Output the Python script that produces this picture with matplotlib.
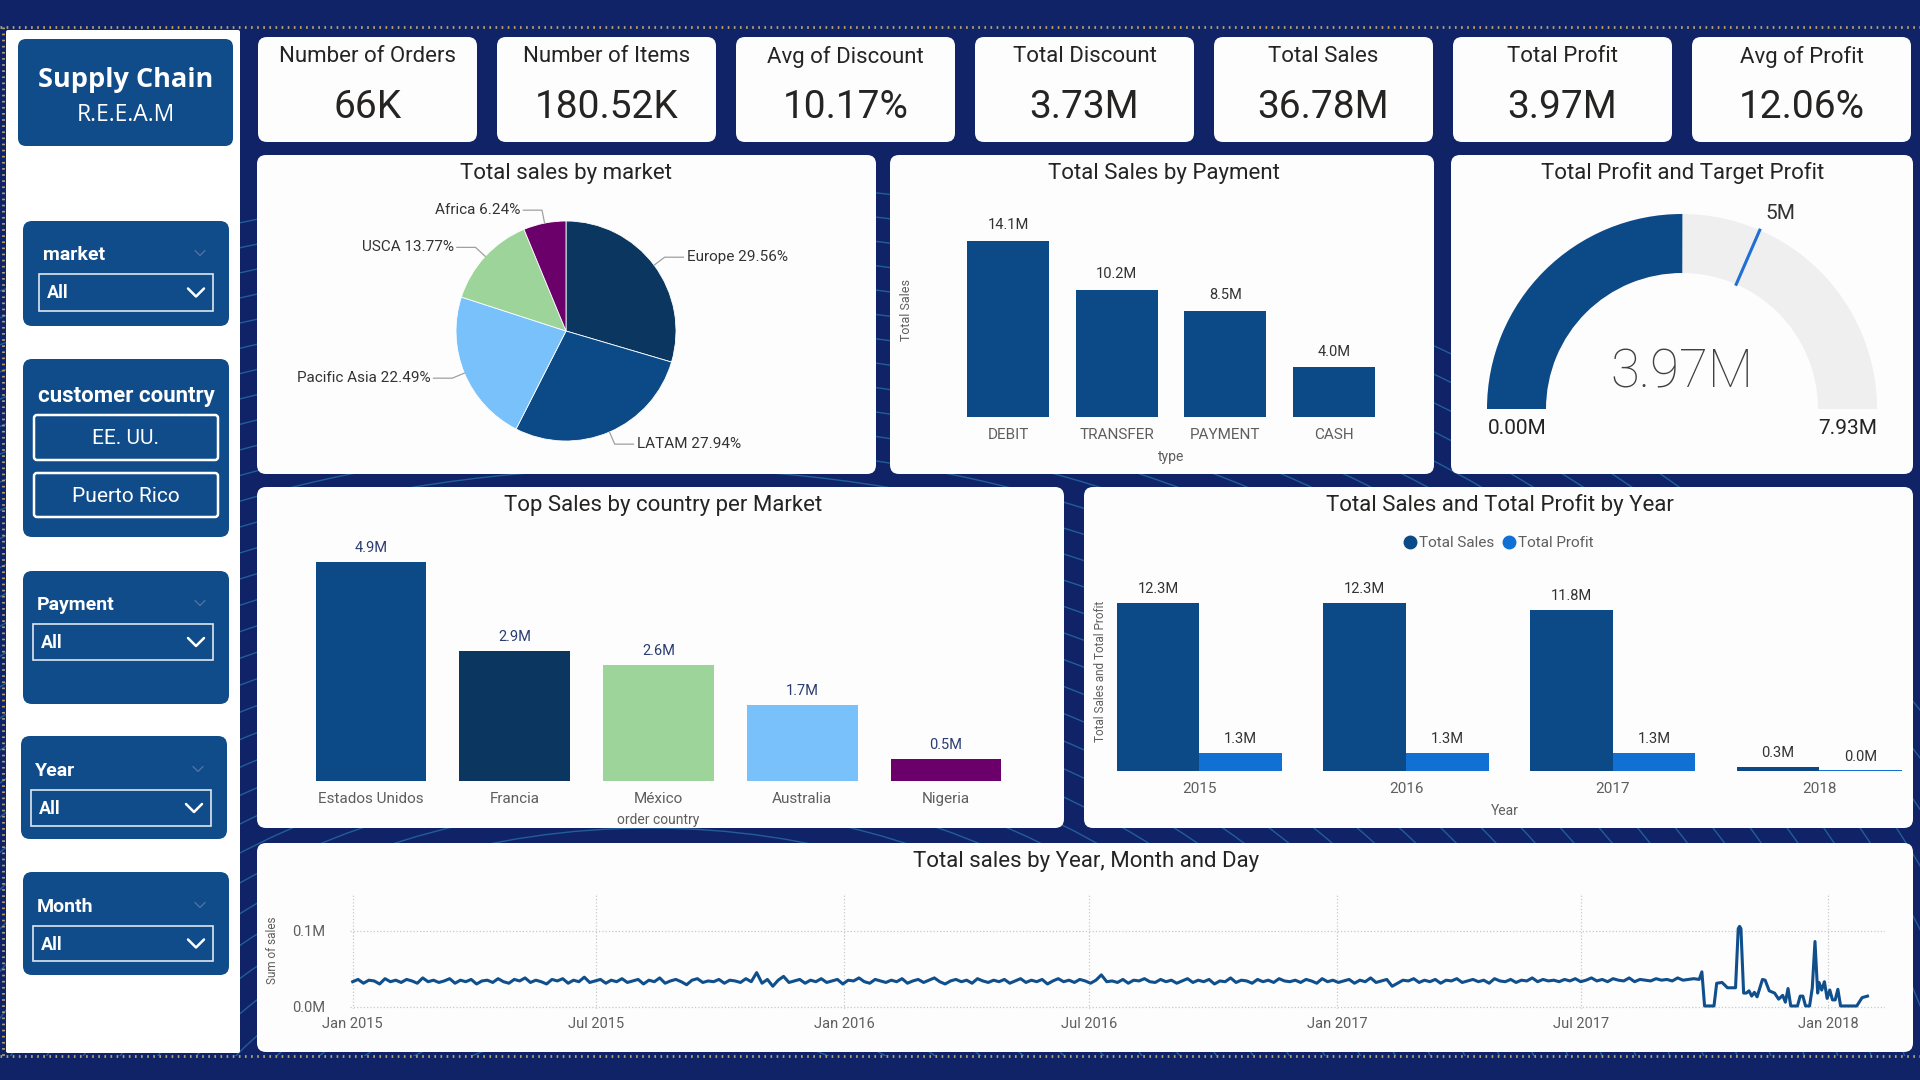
import matplotlib
matplotlib.use('Agg')
import matplotlib.pyplot as plt
import matplotlib.dates as mdates
from matplotlib.patches import FancyBboxPatch, Wedge, Arc, Rectangle
from matplotlib.lines import Line2D
from matplotlib.ticker import FuncFormatter
import numpy as np
import pandas as pd

plt.rcParams['font.family'] = ['Roboto', 'DejaVu Sans']

# ---- data ----
kpi_titles = ['Number of Orders', 'Number of Items', 'Avg of Discount', 'Total Discount',
              'Total Sales', 'Total Profit', 'Avg of Profit']
kpi_values = ['66K', '180.52K', '10.17%', '3.73M', '36.78M', '3.97M', '12.06%']

markets = ['Europe', 'LATAM', 'Pacific Asia', 'USCA', 'Africa']
market_share = [29.56, 27.94, 22.49, 13.77, 6.24]

pay_types = ['DEBIT', 'TRANSFER', 'PAYMENT', 'CASH']
pay_sales = [14.1, 10.2, 8.5, 4.0]

countries = ['Estados Unidos', 'Francia', 'México', 'Australia', 'Nigeria']
country_sales = [4.9, 2.9, 2.6, 1.7, 0.5]

years = ['2015', '2016', '2017', '2018']
year_sales = [12.3, 12.3, 11.8, 0.3]
year_profit = [1.3, 1.3, 1.3, 0.04]

profit_total = 3.97
profit_target = 5.0
profit_max = 7.93

# sales (thousands) sampled every 4 days from 2015-01-01
daily_start = '2015-01-01'
daily_sales_k = [
    33, 36, 31, 35, 34, 30, 37, 33, 35, 32, 36, 34, 31, 38, 33, 35, 32, 34, 37, 31, 35, 33, 36, 30, 34,
    35, 32, 37, 33, 31, 36, 34, 38, 32, 35, 33, 30, 36, 34, 37, 31, 35, 33, 39, 32, 34, 36, 31, 35, 33,
    37, 32, 34, 36, 30, 35, 33, 38, 31, 34, 36, 33, 29, 35, 37, 32, 34, 33, 36, 31, 35, 34, 32, 37, 33,
    45, 31, 36, 27, 35, 40, 32, 34, 36, 31, 35, 33, 37, 32, 34, 36, 30, 35, 34, 38, 33, 31, 36, 34, 32,
    35, 33, 37, 31, 34, 36, 32, 35, 38, 33, 30, 34, 36, 33, 35, 31, 37, 34, 32, 35, 33, 36, 31, 34, 37,
    32, 35, 33, 36, 30, 34, 37, 33, 35, 32, 36, 34, 31, 35, 42, 33, 34, 32, 36, 31, 35, 34, 37, 33, 32,
    36, 33, 35, 31, 34, 37, 32, 35, 33, 36, 30, 34, 33, 38, 32, 35, 34, 31, 36, 33, 35, 32, 37, 34, 33,
    35, 32, 36, 34, 31, 37, 33, 35, 32, 34, 36, 31, 35, 33, 38, 32, 34, 36, 27, 31, 35, 34, 37, 32, 35,
    33, 36, 31, 35, 34, 37, 32, 34, 36, 33, 35, 31, 37, 34, 33, 36, 32, 35, 34, 38, 33, 36, 34, 35, 33,
    36, 34, 37, 33, 35, 38, 34, 36, 33, 37, 35, 34, 38, 33, 36, 35, 34, 37, 35, 36, 34, 38, 35, 36, 37,
]
tail_dates = ['2017-09-27', '2017-09-29', '2017-10-01', '2017-10-04', '2017-10-08',
              '2017-10-10', '2017-10-14', '2017-10-18', '2017-10-21', '2017-10-24',
              '2017-10-26', '2017-10-27', '2017-10-28', '2017-10-30', '2017-11-01',
              '2017-11-03', '2017-11-05', '2017-11-07', '2017-11-09', '2017-11-13',
              '2017-11-15', '2017-11-18', '2017-11-22', '2017-11-25', '2017-11-28',
              '2017-11-30', '2017-12-02', '2017-12-04', '2017-12-09', '2017-12-11',
              '2017-12-13', '2017-12-15', '2017-12-18', '2017-12-20', '2017-12-22',
              '2017-12-24', '2017-12-25', '2017-12-27', '2017-12-29', '2017-12-31',
              '2018-01-02', '2018-01-04', '2018-01-06', '2018-01-08', '2018-01-10',
              '2018-01-22', '2018-01-26', '2018-01-30']
tail_sales_k = [36, 46, 1, 1, 1, 31, 32, 25, 25, 25, 103, 106, 103, 18, 18, 21, 14, 19, 13, 36,
                35, 21, 18, 10, 15, 6, 24, 1, 1, 14, 14, 1, 1, 25, 86, 18, 32, 22, 33, 11,
                22, 9, 9, 23, 1, 1, 12, 14]

# ---- style ----
W, H = 1920, 1080
NAVY = '#0f2366'
SLICER = '#0f4c89'
DARK = '#252423'
GRAY = '#605e5c'
BAR = '#0c4a87'
market_colors = ['#0a365f', '#0c4a87', '#78c1fb', '#9dd49a', '#6b006b']
country_colors = ['#0c4a87', '#0a365f', '#9dd49a', '#78c1fb', '#6b006b']

fig = plt.figure(figsize=(19.2, 10.8), dpi=100)
fig.patch.set_facecolor(NAVY)
bg = fig.add_axes([0, 0, 1, 1])
bg.set_xlim(0, W)
bg.set_ylim(H, 0)
bg.axis('off')


def box(x0, y0, x1, y1, fc, r=8, z=2, ec='none', lw=0):
    bg.add_patch(FancyBboxPatch((x0, y0), x1 - x0, y1 - y0,
                                boxstyle=f'round,pad=0,rounding_size={r}',
                                fc=fc, ec=ec, lw=lw, zorder=z))


def px_axes(x0, y0, x1, y1):
    ax = fig.add_axes([x0 / W, 1 - y1 / H, (x1 - x0) / W, (y1 - y0) / H])
    ax.patch.set_alpha(0)
    return ax


def clean(ax):
    for s in ax.spines.values():
        s.set_visible(False)
    ax.set_yticks([])
    ax.tick_params(axis='x', length=0, labelsize=11, labelcolor=GRAY, pad=8)


# decorative streaks in the background (kept inside the dotted frame)
frame = Rectangle((0, 27), W, 1029, transform=bg.transData)
for r in range(260, 1120, 24):
    a = Arc((650, 1280), 2 * r * 1.35, 2 * r, angle=0, theta1=180, theta2=360,
            color='#3aa3dc', lw=1.0, alpha=0.45, zorder=1)
    bg.add_patch(a)
    a.set_clip_path(frame)

# dotted frame
for xs, ys in [([0, W], [27, 27]), ([0, W], [1056, 1056]), ([3, 3], [27, 1056])]:
    bg.plot(xs, ys, color='#b3a46e', lw=2, ls=(0, (0.6, 1.6)), zorder=3)

# ---- sidebar ----
box(6, 30, 240, 1053, 'white', r=2)
box(18, 39, 233, 146, SLICER, r=8, z=3)
bg.text(125.5, 80, 'Supply Chain', color='white', fontsize=19.5, fontweight='bold',
        family=['Open Sans', 'DejaVu Sans'], ha='center', va='center', zorder=4)
bg.text(125.5, 115, 'R.E.E.A.M', color='white', fontsize=16.5,
        family=['Open Sans', 'DejaVu Sans'], ha='center', va='center', zorder=4)


def chevron(cx, cy, w, h, color, lw):
    bg.plot([cx - w, cx, cx + w], [cy - h, cy + h, cy - h], color=color, lw=lw,
            solid_capstyle='round', zorder=5)


slicers = [('market', (23, 221, 229, 326), (43, 255), (39, 274, 213, 311)),
           ('Payment', (23, 571, 229, 704), (37, 605), (33, 624, 213, 660)),
           ('Year', (21, 736, 227, 839), (35, 771), (31, 790, 211, 826)),
           ('Month', (23, 872, 229, 975), (37, 907), (33, 926, 213, 961))]
for label, (x0, y0, x1, y1), (lx, ly), (dx0, dy0, dx1, dy1) in slicers:
    box(x0, y0, x1, y1, SLICER, r=9, z=3)
    bg.text(lx, ly, label, color='white', fontsize=14, fontweight='bold',
            ha='left', va='center', zorder=4)
    chevron(x1 - 29, ly - 2, 5, 2.5, '#4f73a3', 1.0)
    bg.add_patch(FancyBboxPatch((dx0, dy0), dx1 - dx0, dy1 - dy0, boxstyle='square,pad=0',
                                fc='none', ec='#dfe6ef', lw=1.2, zorder=4))
    bg.text(dx0 + 8, (dy0 + dy1) / 2 + 1, 'All', color='white', fontsize=13,
            fontweight='bold', ha='left', va='center', zorder=4)
    chevron(dx1 - 17, (dy0 + dy1) / 2, 8, 4, 'white', 1.8)

box(23, 359, 229, 537, SLICER, r=9, z=3)
bg.text(126, 396, 'customer country', color='white', fontsize=16, fontweight='bold',
        ha='center', va='center', zorder=4)
for (by0, by1), name in zip([(415, 460), (473, 517)], ['EE. UU.', 'Puerto Rico']):
    bg.add_patch(FancyBboxPatch((34, by0), 184, by1 - by0, boxstyle='round,pad=0,rounding_size=3',
                                fc='none', ec='white', lw=1.8, zorder=4))
    bg.text(126, (by0 + by1) / 2 + 1, name, color='white', fontsize=15,
            ha='center', va='center', zorder=4)

# ---- KPI cards ----
for i, (t, v) in enumerate(zip(kpi_titles, kpi_values)):
    x0 = 258 + i * 239
    box(x0, 37, x0 + 219, 142, '#fdfdfe', r=9)
    bg.text(x0 + 109.5, 57, t, fontsize=16, color=DARK, ha='center', va='center', zorder=4)
    bg.text(x0 + 109.5, 107, v, fontsize=28, color=DARK, ha='center', va='center', zorder=4)

# ---- panels ----
panels = [(257, 155, 876, 474, 'Total sales by market', 566),
          (890, 155, 1434, 474, 'Total Sales by Payment', 1164),
          (1451, 155, 1913, 474, 'Total Profit and Target Profit', 1683),
          (257, 487, 1064, 828, 'Top Sales by country per Market', 663),
          (1084, 487, 1913, 828, 'Total Sales and Total Profit by Year', 1500),
          (257, 843, 1913, 1052, 'Total sales by Year, Month and Day', 1086)]
for x0, y0, x1, y1, title, tx in panels:
    box(x0, y0, x1, y1, '#fdfdfe', r=9)
    bg.text(tx, y0 + 18, title, fontsize=16, color=DARK, ha='center', va='center', zorder=4)

# ---- pie ----
axp = px_axes(446, 211, 686, 451)
wedges, _ = axp.pie(market_share, colors=market_colors, startangle=90, counterclock=False,
                    wedgeprops=dict(edgecolor='white', linewidth=0.6))
axp.set_xlim(-1.0909, 1.0909)
axp.set_ylim(-1.0909, 1.0909)
axp.set_aspect('equal')
for w, name, share in zip(wedges, markets, market_share):
    ang = np.deg2rad((w.theta1 + w.theta2) / 2)
    c, s = np.cos(ang), np.sin(ang)
    side = 1 if c >= 0 else -1
    p1 = (1.12 * c, 1.12 * s)
    p2 = (p1[0] + side * 0.17, p1[1])
    axp.plot([c * 1.0, p1[0], p2[0]], [s * 1.0, p1[1], p2[1]], color='#a0a0a0', lw=0.9,
             clip_on=False)
    axp.text(p2[0] + side * 0.03, p2[1], f'{name} {share:.2f}%', fontsize=11, color='#333333',
             ha='left' if side > 0 else 'right', va='center')

# ---- payment bars ----
axb = px_axes(954, 217, 1388, 417)
bars = axb.bar(range(len(pay_types)), pay_sales, width=0.76, color=BAR)
axb.set_xlim(-0.5, 3.5)
axb.set_ylim(0, 16)
clean(axb)
axb.set_xticks(range(len(pay_types)), pay_types)
axb.bar_label(bars, labels=[f'{v:.1f}M' for v in pay_sales], padding=6, fontsize=10.5,
              color='#333333')
axb.set_xlabel('type', fontsize=10, color=GRAY, labelpad=6)
axb.set_ylabel('Total Sales', fontsize=9, color=GRAY)
axb.yaxis.set_label_coords(-0.094, 0.535)

# ---- gauge ----
axg = px_axes(1472, 190, 1892, 420)
axg.set_xlim(-210, 210)
axg.set_ylim(-11, 219)
axg.set_aspect('equal')
axg.axis('off')
frac = profit_total / profit_max
axg.add_patch(Wedge((0, 0), 195, 0, 180, width=59, fc='#efefef', ec='none'))
axg.add_patch(Wedge((0, 0), 195, 180 - frac * 180, 180, width=59, fc=BAR, ec='none'))
ta = np.deg2rad(180 - profit_target / profit_max * 180)
axg.plot([136 * np.cos(ta), 195 * np.cos(ta)], [136 * np.sin(ta), 195 * np.sin(ta)],
         color='#1f6fd6', lw=2.2)
axg.text(213 * np.cos(ta) - 1, 213 * np.sin(ta), f'{profit_target:.0f}M', fontsize=15,
         color='#333333', ha='left', va='center')
axg.text(0, 36, f'{profit_total:.2f}M', fontsize=38, fontweight='light', color='#404040',
         ha='center', va='center')
axg.text(-165, -19, f'{0:.2f}M', fontsize=15, color=DARK, ha='center', va='center')
axg.text(166, -19, f'{profit_max:.2f}M', fontsize=15, color=DARK, ha='center', va='center')

# ---- country bars ----
axc = px_axes(299, 535, 1018, 781)
cb = axc.bar(range(len(countries)), country_sales, width=0.77, color=country_colors)
axc.set_xlim(-0.5, 4.5)
axc.set_ylim(0, 5.5)
clean(axc)
axc.set_xticks(range(len(countries)), countries)
axc.bar_label(cb, labels=[f'{v:.1f}M' for v in country_sales], padding=5, fontsize=10.5,
              color='#2a3d73')
axc.set_xlabel('order country', fontsize=10, color=GRAY, labelpad=5)

# ---- year bars ----
axy = px_axes(1096, 580, 1913, 771)
xi = np.arange(len(years))
b1 = axy.bar(xi - 0.2, year_sales, width=0.4, color=BAR, label='Total Sales')
b2 = axy.bar(xi + 0.2, year_profit, width=0.4, color='#1170d4', label='Total Profit')
axy.set_xlim(-0.5, 3.453)
axy.set_ylim(0, 14)
clean(axy)
axy.set_xticks(xi, years)
axy.bar_label(b1, labels=[f'{v:.1f}M' for v in year_sales], padding=5, fontsize=10.5,
              color='#333333')
axy.bar_label(b2, labels=[f'{v:.1f}M' for v in year_profit], padding=5, fontsize=10.5,
              color='#333333')
axy.set_xlabel('Year', fontsize=10, color=GRAY, labelpad=6)
axy.text(0.006, 0.52, 'Total Sales and Total Profit', transform=axy.transAxes, rotation=90,
         fontsize=8.5, color=GRAY, ha='center', va='center')
handles = [Line2D([], [], marker='o', ls='', color=BAR, markersize=9),
           Line2D([], [], marker='o', ls='', color='#1170d4', markersize=9)]
axy.legend(handles, ['Total Sales', 'Total Profit'], loc='center',
           bbox_to_anchor=(1498 / W, 1 - 543 / H), bbox_transform=fig.transFigure, ncol=2,
           frameon=False, handletextpad=0.05, columnspacing=0.5, fontsize=11,
           labelcolor=GRAY, handlelength=1.0)

# ---- daily line ----
axt = px_axes(350, 893, 1885, 1009)
dates = list(pd.date_range(daily_start, periods=len(daily_sales_k), freq='4D')) + \
    list(pd.to_datetime(tail_dates))
vals = np.array(daily_sales_k + tail_sales_k) / 1000.0
axt.plot(dates, vals, color='#0f4f8c', lw=2.2)
axt.set_xlim(pd.Timestamp('2014-12-30'), pd.Timestamp('2018-02-12'))
axt.set_ylim(-0.003, 0.15)
for s in axt.spines.values():
    s.set_visible(False)
axt.xaxis.set_major_locator(mdates.MonthLocator(bymonth=[1, 7]))
axt.xaxis.set_major_formatter(mdates.DateFormatter('%b %Y'))
axt.set_yticks([0, 0.1])
axt.yaxis.set_major_formatter(FuncFormatter(lambda v, p: f'{v:.1f}M'))
axt.tick_params(axis='both', length=0, labelsize=10.5, labelcolor=GRAY)
axt.tick_params(axis='y', pad=18)
axt.tick_params(axis='x', pad=6)
axt.grid(True, ls=':', color='#c8c8c8', lw=0.9)
axt.set_ylabel('Sum of sales', fontsize=8.5, color=GRAY)
axt.yaxis.set_label_coords(-0.046, 0.51)

fig.savefig('out.png', dpi=100, facecolor=fig.get_facecolor())
